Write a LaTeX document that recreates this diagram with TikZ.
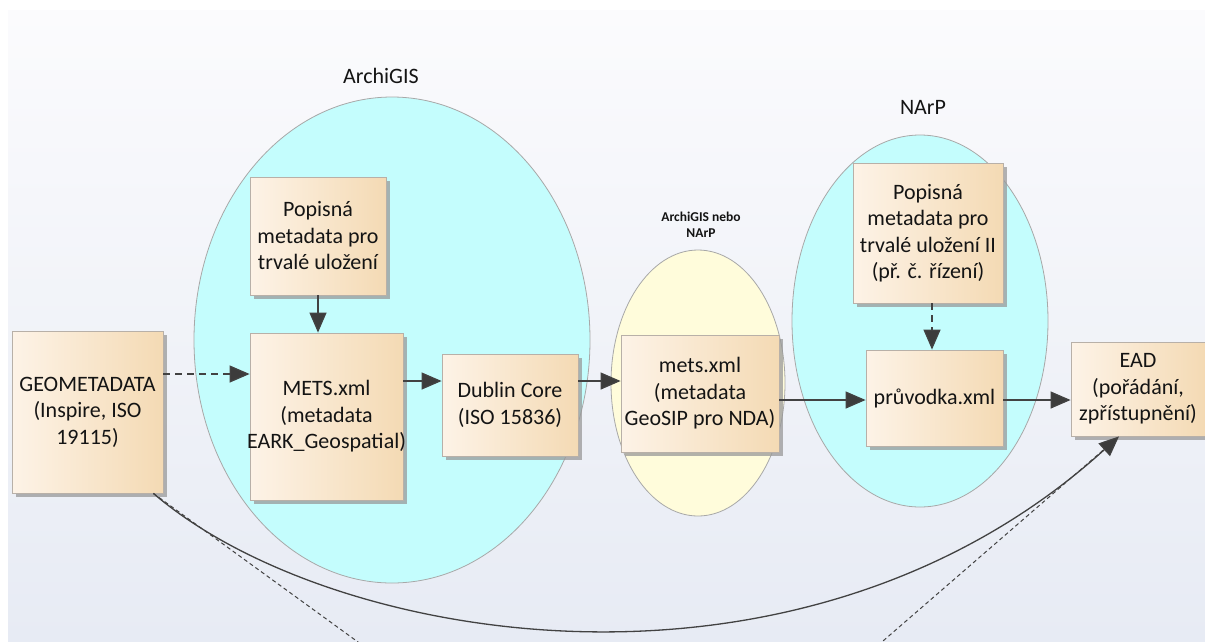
\documentclass[tikz,border=0pt]{standalone}
\usepackage{fontspec}
\setmainfont{Carlito}
\usetikzlibrary{arrows.meta,shapes.geometric,shadows}
\definecolor{cyanfill}{HTML}{C4FDFD}
\definecolor{yelfill}{HTML}{FFFCDB}
\definecolor{boxl}{HTML}{FDF3E7}
\definecolor{boxm}{HTML}{FBEBD8}
\definecolor{boxr}{HTML}{F4DAB4}
\definecolor{boxedge}{HTML}{B8B0A8}
\definecolor{elledge}{HTML}{A8A8A8}
\definecolor{lnc}{HTML}{424242}
\definecolor{tipc}{HTML}{3C3C3C}
\definecolor{txt}{HTML}{141414}
\definecolor{bgtop}{HTML}{FBFBFD}
\definecolor{bgbot}{HTML}{E7EBF4}
\begin{document}
\begin{tikzpicture}[x=1pt,y=-1pt,
  box/.style={draw=boxedge, line width=0.8pt, left color=boxl, middle color=boxm, right color=boxr,
    inner sep=2pt, align=center, text=txt, font=\fontsize{22}{26.5}\selectfont,
    drop shadow={shadow xshift=4pt, shadow yshift=-4pt, fill=black!40, opacity=0.75}},
  ell/.style={ellipse, draw=elledge, line width=0.8pt, inner sep=0pt},
  lbl/.style={text=txt, font=\fontsize{22}{26.5}\selectfont, inner sep=0pt},
  slbl/.style={text=txt, font=\fontsize{13.5}{16}\selectfont\bfseries, align=center, inner sep=0pt},
  arr/.style={draw=lnc, line width=1.3pt, -{Triangle[length=20pt,width=17pt,fill=tipc]}},
  dasharr/.style={arr, dash pattern=on 7pt off 5pt},
  depline/.style={draw=lnc, line width=1pt, dash pattern=on 4pt off 3pt}]
\useasboundingbox (0,0) rectangle (1205,641);
\fill[white] (0,0) rectangle (1205,641);
\shade[top color=bgtop, bottom color=bgbot] (8,10) rectangle (1205,641);

% containers
\node[ell, fill=cyanfill, minimum width=396pt, minimum height=486pt] (archE) at (392,340) {};
\node[ell, fill=yelfill, minimum width=174pt, minimum height=266pt] (yelE) at (698,383) {};
\node[ell, fill=cyanfill, minimum width=256pt, minimum height=372pt] (narpE) at (920,321) {};

\node[lbl] (archL) at (381,76) {ArchiGIS};
\node[lbl] (narpL) at (923,107) {NArP};
\node[slbl] (midL) at (701,224.5) {ArchiGIS nebo\\NArP};

% boxes
\node[box, minimum width=151pt, minimum height=162pt] (geo) at (87.5,412) {GEOMETADATA\\(Inspire, ISO\\19115)};
\node[box, minimum width=136pt, minimum height=118pt] (pop1) at (318,236) {Popisná\\metadata pro\\trvalé uložení};
\node[box, minimum width=153pt, minimum height=167pt] (mets) at (326.5,416.5) {METS.xml\\(metadata\\\makebox[0pt]{EARK\_Geospatial)}};
\node[box, minimum width=136pt, minimum height=102pt] (dc) at (510,405) {Dublin Core\\(ISO 15836)};
\node[box, minimum width=158pt, minimum height=117pt] (mx) at (700,393.5) {mets.xml\\(metadata\\GeoSIP pro NDA)};
\node[box, minimum width=150pt, minimum height=140pt] (pop2) at (928,233) {Popisná\\metadata pro\\trvalé uložení II\\(př. č. řízení)};
\node[box, minimum width=137pt, minimum height=96pt] (pr) at (934.5,398) {průvodka.xml};
\node[box, minimum width=134pt, minimum height=94pt] (ead) at (1138,389) {EAD\\(pořádání,\\zpřístupnění)};

% connectors
\draw[dasharr] ([yshift=38pt]geo.east) -- ([yshift=38pt]geo.east -| mets.west);
\draw[arr] (pop1.south) -- (pop1.south |- mets.north);
\draw[arr] ([yshift=35.5pt]mets.east) -- ([yshift=35.5pt]mets.east -| dc.west);
\draw[arr] ([yshift=24pt]dc.east) -- ([yshift=24pt]dc.east -| mx.west);
\draw[arr] ([yshift=-6.5pt]mx.east) -- ([yshift=-6.5pt]mx.east -| pr.west);
\draw[dasharr] ([xshift=4pt]pop2.south) -- ([xshift=4pt]pop2.south |- pr.north);
\draw[arr] ([yshift=-2pt]pr.east) -- ([yshift=-2pt]pr.east -| ead.west);

\coordinate (cs) at ([xshift=-10pt]geo.south east);
\coordinate (ce) at ([xshift=-19pt]ead.south);
\coordinate (d1) at (369,650);
\coordinate (d2) at (872.6,650);
\draw[depline] (cs) -- (d1);
\draw[depline, shorten >=8pt] (d2) -- (ce);
\draw[arr] (cs) .. controls (330,645) and (800,725) .. (ce);
\end{tikzpicture}
\end{document}
